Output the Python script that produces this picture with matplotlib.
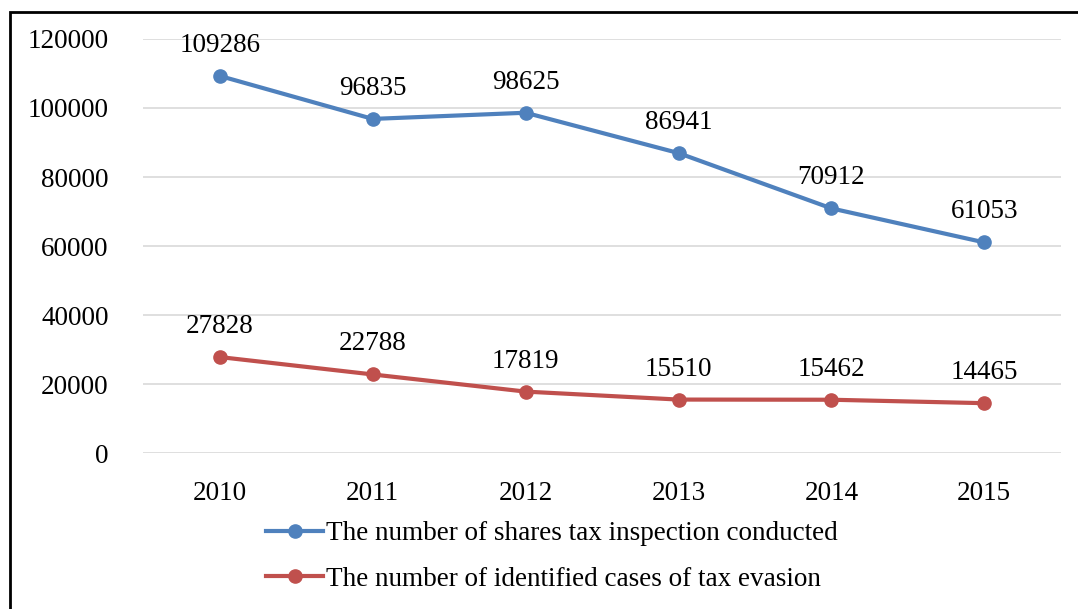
import matplotlib
matplotlib.use("Agg")
import matplotlib.pyplot as plt
from matplotlib.lines import Line2D

years = ["2010", "2011", "2012", "2013", "2014", "2015"]
inspections = [109286, 96835, 98625, 86941, 70912, 61053]
evasion = [27828, 22788, 17819, 15510, 15462, 14465]
series_names = ["The number of shares tax inspection conducted",
                "The number of identified cases of tax evasion"]

plt.rcParams['font.family'] = ['Liberation Serif', 'DejaVu Serif']
fs = 19.5

fig = plt.figure(figsize=(10.78, 6.09), dpi=100)
ax = fig.add_axes([0.133, 0.256, 0.851, 0.68])

blue = "#4F81BD"
red = "#C0504D"
x = range(len(years))

ax.plot(x, inspections, color=blue, lw=3, marker="o", ms=9.5, zorder=3)
ax.plot(x, evasion, color=red, lw=3, marker="o", ms=9.5, zorder=3)

for i, v in enumerate(inspections):
    ax.annotate(str(v), (i, v), xytext=(0, 13), textcoords="offset points",
                ha="center", va="bottom", fontsize=fs)
for i, v in enumerate(evasion):
    ax.annotate(str(v), (i, v), xytext=(0, 13), textcoords="offset points",
                ha="center", va="bottom", fontsize=fs)

ax.set_xlim(-0.5, len(years) - 0.5)
ax.set_ylim(0, 120000)
ax.set_yticks(range(0, 120001, 20000))
ax.set_xticks(list(x))
ax.set_xticklabels(years)
ax.tick_params(axis="both", length=0, labelsize=fs)
ax.tick_params(axis="y", pad=25)
ax.tick_params(axis="x", pad=20)
ax.grid(axis="y", color="#D9D9D9", lw=1.2)
ax.set_axisbelow(True)
for s in ax.spines.values():
    s.set_visible(False)

handles = [Line2D([], [], color=blue, lw=3, marker="o", ms=9.5),
           Line2D([], [], color=red, lw=3, marker="o", ms=9.5)]
fig.legend(handles, series_names, loc="upper left", bbox_to_anchor=(0.247, 0.144),
           frameon=False, fontsize=fs, handlelength=2.1, handletextpad=0.1,
           labelspacing=0.76, borderaxespad=0, borderpad=0)

# outer chart frame
fig.add_artist(plt.Rectangle((0.009, -0.05), 1.2, 1.03, transform=fig.transFigure,
                             fill=False, edgecolor="black", lw=2))

fig.savefig("out.png", dpi=100)
